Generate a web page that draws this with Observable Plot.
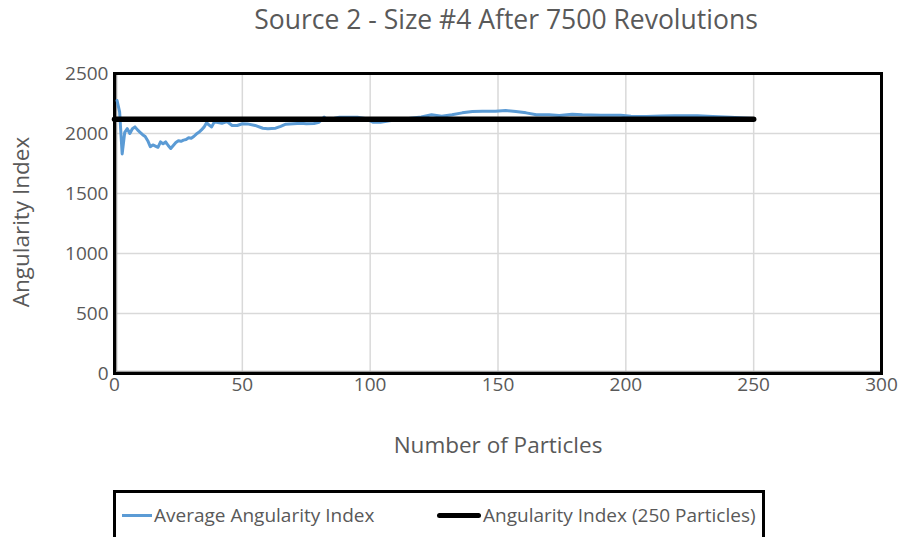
<!DOCTYPE html>
<html>
<head>
<meta charset="utf-8">
<script src="https://cdn.jsdelivr.net/npm/d3@7"></script>
<script src="https://cdn.jsdelivr.net/npm/@observablehq/plot@0.6"></script>
<style>
  html, body { margin: 0; padding: 0; background: #fff; }
  #wrap { position: relative; width: 904px; height: 537px; overflow: hidden; font-family: "Open Sans", sans-serif; color: #595959; }
  #title { position: absolute; left: 506px; top: 1px; transform: translateX(-50%); white-space: nowrap; font-size: 26.5px; }
  #ylab { position: absolute; left: 20px; top: 222px; transform: translate(-50%, -50%) rotate(-90deg); font-size: 22.5px; white-space: nowrap; }
  #xlab { position: absolute; left: 498px; top: 444px; transform: translate(-50%, -50%); font-size: 22.5px; white-space: nowrap; }
  #legend { position: absolute; left: 113px; top: 490px; width: 652px; height: 60px; border: 3px solid #000; box-sizing: border-box; }
  .li { position: absolute; top: 9px; font-size: 19px; white-space: nowrap; display: flex; align-items: center; }
  .sw { display: inline-block; margin-right: 2px; }
  svg { position: absolute; left: 0; top: 0; }
</style>
</head>
<body>
<div id="wrap">
  <div id="title">Source 2 - Size #4 After 7500 Revolutions</div>
  <div id="ylab">Angularity Index</div>
  <div id="xlab">Number of Particles</div>
  <div id="legend">
    <div class="li" style="left:6px"><span class="sw" style="width:30px;height:3px;background:#5b9bd5"></span><span>Average Angularity Index</span></div>
    <div class="li" style="left:321px"><span class="sw" style="width:44px;height:5px;background:#000;border-radius:3px"></span><span>Angularity Index (250 Particles)</span></div>
  </div>
</div>
<script>
const particles = [1,2,3,4,5,6,7,8,9,10,11,12,13,14,15,16,17,18,19,20,21,22,23,24,25,26,27,28,29,30,31,32,33,34,35,36,37,38,39,40,42,44,46,48,50,52,55,58,60,63,65,67,70,73,75,78,80,82,83,86,88,91,95,98,101,104,107,110,115,120,124,128,132,136,140,144,149,153,157,161,165,170,174,179,183,190,198,202,208,214,219,228,234,241,246,250];
const avgIndex = [2275,2180,1830,2010,2040,2000,2040,2055,2030,2010,1990,1975,1940,1890,1905,1895,1885,1930,1915,1930,1900,1875,1900,1925,1940,1935,1945,1950,1965,1960,1975,1995,2010,2030,2053,2090,2070,2055,2095,2094,2085,2100,2067,2067,2081,2080,2067,2044,2039,2044,2060,2078,2081,2085,2082,2083,2094,2136,2120,2128,2135,2136,2136,2125,2094,2094,2105,2115,2125,2138,2156,2144,2156,2172,2183,2186,2186,2192,2183,2172,2156,2156,2150,2161,2156,2152,2153,2144,2142,2145,2147,2147,2142,2136,2130,2125];
const refParticles = [0, 250];
const refIndex = [2118, 2118];
const xTicks = [0,50,100,150,200,250,300];
const yTicks = [0,500,1000,1500,2000,2500];

const avgData = particles.map((n, i) => ({n, v: avgIndex[i]}));
const refData = refParticles.map((n, i) => ({n, v: refIndex[i]}));

const chart = Plot.plot({
  width: 904,
  height: 537,
  marginTop: 73,
  marginBottom: 164,
  marginLeft: 114,
  marginRight: 23,
  style: {fontFamily: "Open Sans, sans-serif", fontSize: "19px", color: "#595959", background: "transparent"},
  x: {domain: [0, 300], ticks: xTicks, label: null},
  y: {domain: [0, 2500], ticks: yTicks, label: null},
  marks: [
    Plot.gridX(xTicks.slice(1, -1), {stroke: "#d9d9d9", strokeOpacity: 1, strokeWidth: 1.5}),
    Plot.gridY(yTicks.slice(1, -1), {stroke: "#d9d9d9", strokeOpacity: 1, strokeWidth: 1.5}),
    Plot.axisX(xTicks, {tickSize: 0, tickPadding: 4, fill: "#595959", fontSize: 19, tickFormat: d => String(d)}),
    Plot.axisY(yTicks, {tickSize: 0, tickPadding: 6, fill: "#595959", fontSize: 19, tickFormat: d => String(d)}),
    Plot.ruleX([0], {stroke: "#9a9a9a", strokeWidth: 1.5, dx: 2}),
    Plot.ruleY([0], {stroke: "#9a9a9a", strokeWidth: 1.5, dy: -2}),
    Plot.frame({stroke: "#000", strokeWidth: 3}),
    Plot.line(avgData, {x: "n", y: "v", stroke: "#5b9bd5", strokeWidth: 3, strokeLinejoin: "round"}),
    Plot.line(refData, {x: "n", y: "v", stroke: "#000", strokeWidth: 5.5, strokeLinecap: "round"})
  ]
});
document.getElementById("wrap").prepend(chart);
</script>
</body>
</html>
